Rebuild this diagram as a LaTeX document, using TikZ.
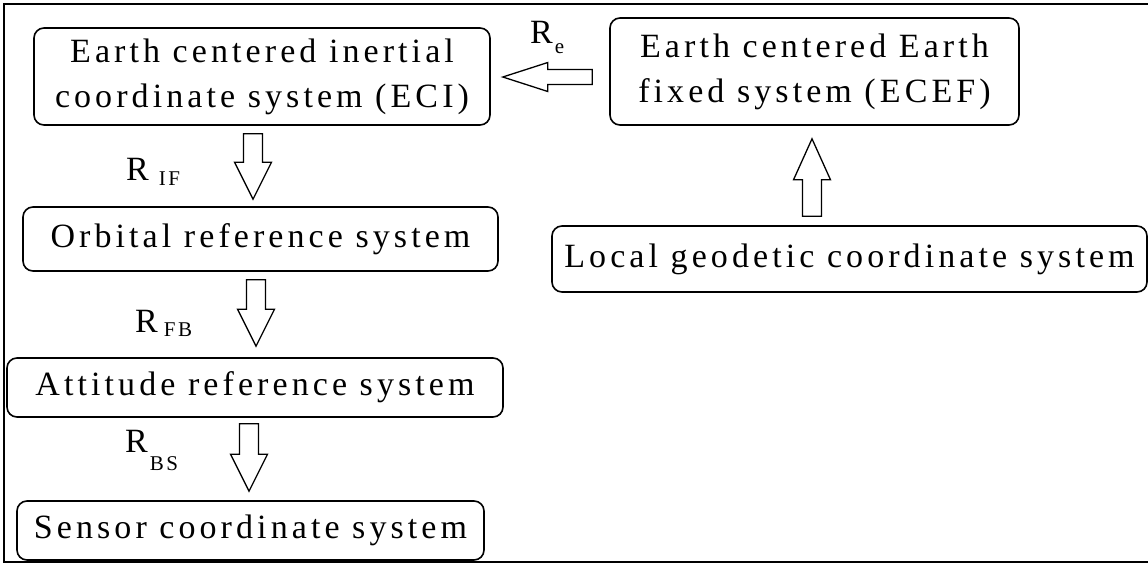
\documentclass[tikz,border=0pt]{standalone}
\usepackage{fontspec}
\setmainfont[LetterSpace=12]{Liberation Serif}
\usetikzlibrary{calc}
\newcommand{\subsize}{\fontsize{21}{21}\selectfont}
\newcommand{\rlab}[3]{R\hspace{#1pt}\raisebox{-#2pt}{\subsize #3}}

\begin{document}
\begin{tikzpicture}[x=1pt, y=-1pt,
    box/.style={draw, line width=1.6pt, rounded corners=10pt, inner sep=0pt,
      align=center, font=\fontsize{34}{45}\selectfont},
    lbl/.style={anchor=base west, inner sep=0pt, font=\fontsize{34}{34}\selectfont},
    shaftwd/.store in=\shaftwd, headwd/.store in=\headwd, headlen/.store in=\headlen,
    gapa/.store in=\gapa, gapb/.store in=\gapb, offs/.store in=\offs,
    shaftwd=9.5pt, headwd=18.5pt, headlen=37pt, gapa=0pt, gapb=0pt, offs={0,0},
    hollow/.style={draw, line width=1.3pt, fill=white, line join=miter,
      to path={let \p1=($(\tikztostart)!\gapa!(\tikztotarget)+(\offs)$),
        \p2=($(\tikztotarget)!\gapb!(\tikztostart)+(\offs)$),
        \p3=($(\p2)!\headlen!(\p1)$) in
        ($(\p1)!\shaftwd!90:(\p2)$) -- ($(\p3)!\shaftwd!-90:(\p1)$)
        -- ($(\p3)!\headwd!-90:(\p1)$) -- (\p2)
        -- ($(\p3)!\headwd!90:(\p1)$) -- ($(\p3)!\shaftwd!90:(\p1)$)
        -- ($(\p1)!\shaftwd!-90:(\p2)$) -- cycle}},
  ]
    \useasboundingbox (0,0) rectangle (1148,563);

    % Frame
    \draw[line width=2pt] (1152,4) -- (4,4) -- (4,561.5) -- (1152,561.5);

    % Chain on the left
    \node[box, minimum width=456pt, minimum height=97pt] (eci) at (262,76.5)
      {Earth centered inertial\\coordinate system (ECI)};
    \node[box, minimum width=475pt, minimum height=64pt] (orb) at (260.5,239)
      {Orbital reference system};
    \node[box, minimum width=496pt, minimum height=59pt] (att) at (255,387.5)
      {Attitude reference system};
    \node[box, minimum width=467pt, minimum height=59pt] (sen) at (250.5,530.5)
      {Sensor coordinate system};

    % Earth fixed side
    \node[box, minimum width=409pt, minimum height=107pt] (ecef) at (814.5,71.5)
      {Earth centered Earth\\fixed system (ECEF)};
    \node[box, minimum width=595pt, minimum height=66pt] (loc) at (849.5,259)
      {Local geodetic coordinate system};

    % Rotations
    \draw[hollow, gapa=8pt, gapb=7pt, offs={-9,0}] (eci.south) to (orb.north -| eci.south);
    \draw[hollow, gapa=8pt, gapb=11pt, offs={-4.5,0}] (orb.south) to (att.north -| orb.south);
    \draw[hollow, gapa=6pt, gapb=9pt, offs={-6,0}] (att.south) to (sen.north -| att.south);
    \draw[hollow, gapa=17pt, gapb=12pt, offs={0,5.5}, shaftwd=7.5pt, headwd=14.5pt,
      headlen=45pt] (ecef.west) to (eci.east |- ecef.west);
    \draw[hollow, gapa=9pt, gapb=13pt, offs={-2.5,0}, headlen=41pt]
      (loc.north -| ecef.south) to (ecef.south);

    % Labels
    \node[lbl] (re) at (530,43) {\rlab{2}{10}{e}};
    \node[lbl] (rif) at (126,180) {\rlab{10}{5}{IF}};
    \node[lbl] (rfb) at (135,332) {\rlab{6}{4}{FB}};
    \node[lbl] (rbs) at (125,452) {\rlab{2}{18}{BS}};
\end{tikzpicture}
\end{document}
